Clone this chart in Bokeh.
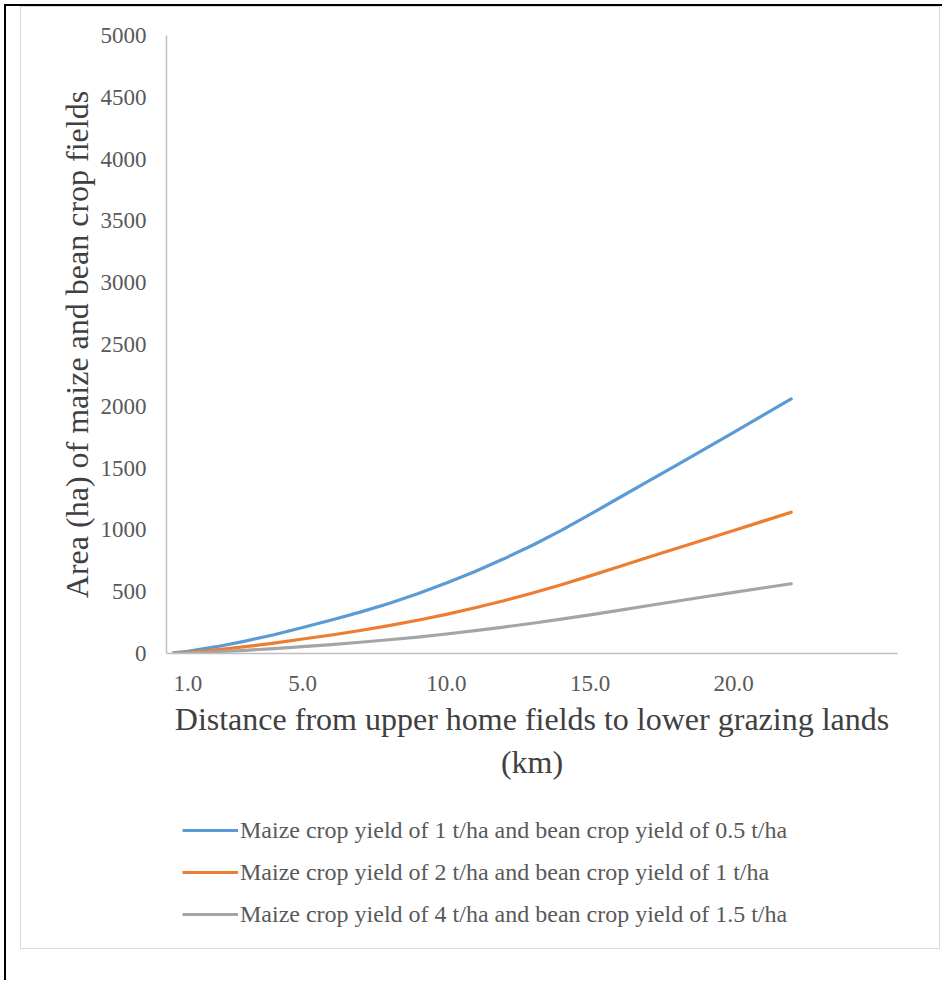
from bokeh.plotting import figure
from bokeh.models import Range1d, FixedTicker, Legend, LegendItem
from bokeh.layouts import column
from bokeh.embed import file_html
from bokeh.resources import INLINE

# Distance (km)
distance = [0.5, 1, 2, 3, 4, 5, 6, 7, 8, 9, 10, 11, 12, 13, 14, 15, 16, 17, 18, 19, 20, 21, 22]
# Area (ha) for each yield scenario
area_low = [5, 18, 55, 100, 152, 210, 271, 335, 405, 484, 570, 664, 766, 876, 996, 1125, 1258, 1390, 1522, 1655, 1789, 1924, 2060]
area_mid = [3, 10, 30, 55, 84, 117, 150, 186, 225, 269, 317, 370, 427, 489, 556, 628, 702, 776, 849, 922, 995, 1069, 1143]
area_high = [1, 4, 14, 26, 40, 55, 72, 91, 111, 133, 158, 185, 214, 245, 278, 313, 349, 386, 423, 459, 495, 530, 564]

series_names = [
    "Maize crop yield of 1 t/ha and bean crop yield of 0.5 t/ha",
    "Maize crop yield of 2 t/ha and bean crop yield of 1 t/ha",
    "Maize crop yield of 4 t/ha and bean crop yield of 1.5 t/ha",
]
series_colors = ["#5B9BD5", "#ED7D31", "#A5A5A5"]
x_ticks = [1, 5, 10, 15, 20]
x_tick_labels = ["1.0", "5.0", "10.0", "15.0", "20.0"]
y_ticks = [0, 500, 1000, 1500, 2000, 2500, 3000, 3500, 4000, 4500, 5000]

FONT = "Liberation Serif"
MAIN_H = 793

p = figure(width=942, height=MAIN_H, output_backend="svg", toolbar_location=None,
           x_range=Range1d(0.26, 25.7), y_range=Range1d(0, 5000),
           frame_width=731, frame_height=618,
           min_border_left=166, min_border_right=45, min_border_top=35,
           min_border_bottom=MAIN_H - 35 - 618)
p.outline_line_color = None
p.border_fill_alpha = 0
p.xgrid.visible = False
p.ygrid.visible = False

for ys, c in zip([area_low, area_mid, area_high], series_colors):
    p.line(distance, ys, line_color=c, line_width=3.2, line_cap="round", line_join="round")

for ax in (p.xaxis[0], p.yaxis[0]):
    ax.axis_line_color = "#BFBFBF"
    ax.axis_line_width = 1.5
    ax.major_tick_line_color = None
    ax.minor_tick_line_color = None
    ax.major_label_text_font = FONT
    ax.major_label_text_font_size = "23px"
    ax.major_label_text_color = "#595959"
    ax.axis_label_text_font = FONT
    ax.axis_label_text_font_size = "32px"
    ax.axis_label_text_color = "#404040"
    ax.axis_label_text_font_style = "normal"

p.xaxis.ticker = FixedTicker(ticks=x_ticks)
p.xaxis.major_label_overrides = {t: l for t, l in zip(x_ticks, x_tick_labels)}
p.xaxis.major_label_standoff = 16
p.xaxis.axis_label = "Distance from upper home fields to lower grazing lands\n(km)"
p.xaxis.axis_label_standoff = 7

p.yaxis.ticker = FixedTicker(ticks=y_ticks)
p.yaxis.major_label_standoff = 14
p.yaxis.axis_label = "Area (ha) of maize and bean crop fields"
p.yaxis.axis_label_standoff = 3

# legend panel (separate figure below the chart)
LEG_H = 980 - MAIN_H
lg = figure(width=942, height=LEG_H, output_backend="svg", toolbar_location=None,
            x_axis_type=None, y_axis_type=None, x_range=Range1d(0, 1), y_range=Range1d(0, 1),
            min_border_left=0, min_border_right=0, min_border_top=0, min_border_bottom=0)
lg.outline_line_color = None
lg.border_fill_alpha = 0
lg.background_fill_alpha = 0
lg.xgrid.visible = False
lg.ygrid.visible = False
nan = float("nan")
leg_renderers = [lg.line(x=[nan], y=[nan], line_color=c, line_width=3.2) for c in series_colors]

legend = Legend(items=[LegendItem(label=n, renderers=[r]) for n, r in zip(series_names, leg_renderers)],
                location=(16, 52), orientation="vertical")
legend.border_line_color = None
legend.background_fill_alpha = 0
legend.label_text_font = FONT
legend.label_text_font_size = "24px"
legend.label_text_color = "#595959"
legend.glyph_width = 56
legend.glyph_height = 28
legend.label_height = 28
legend.label_standoff = 2
legend.spacing = 14
legend.margin = 0
legend.padding = 0
lg.add_layout(legend, "center")

# page frame: black document border and light-grey chart-area border
frame_css = {
    "background-image": ", ".join(["linear-gradient(#000000, #000000)"] * 2 +
                                  ["linear-gradient(#D9D9D9, #D9D9D9)"] * 4),
    "background-position": "4px 4px, 4px 4px, 20px 6px, 939px 6px, 20px 6px, 20px 948px",
    "background-size": "2px 976px, 938px 2px, 1px 943px, 1px 943px, 920px 1px, 920px 1px",
    "background-repeat": "no-repeat",
}
layout = column(p, lg, spacing=0, styles=frame_css)
open("out.html", "w").write(file_html(layout, INLINE))
